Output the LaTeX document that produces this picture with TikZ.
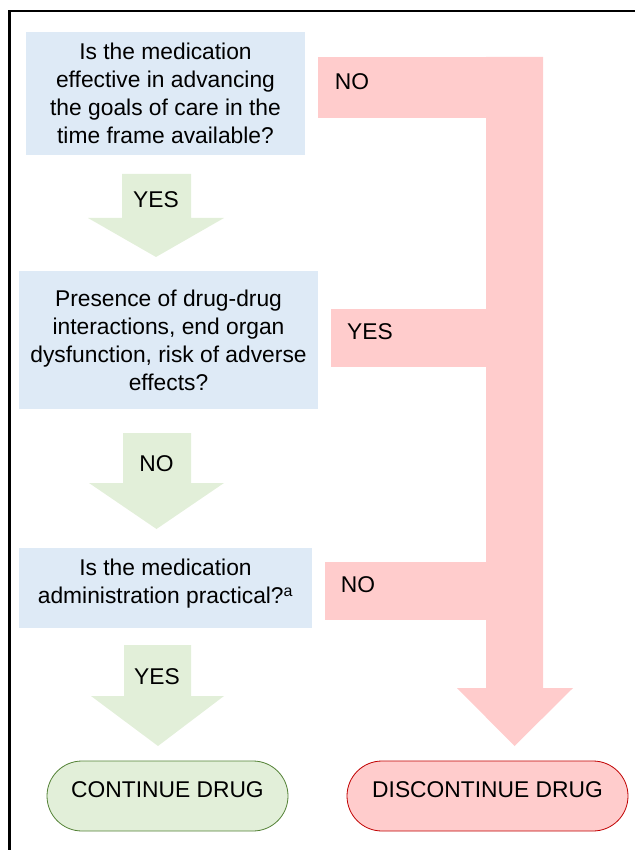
\documentclass[tikz,border=0pt]{standalone}
\usepackage{fontspec}
\setmainfont{Liberation Sans}
\definecolor{Cq}{HTML}{DEEAF6}
\definecolor{Cyes}{HTML}{E2EFD9}
\definecolor{Cno}{HTML}{FFCCCC}
\definecolor{Cyesline}{HTML}{538135}
\definecolor{Cnoline}{HTML}{C00000}
\tikzset{
  question/.style={fill=Cq, align=center, inner sep=0pt, font=\fontsize{22.8}{28}\selectfont},
  answer/.style={inner sep=0pt, font=\fontsize{22.8}{28}\selectfont},
  outcome/.style={rectangle, rounded corners=35pt, line width=0.8pt, minimum height=70, inner sep=0pt, text depth=12pt, font=\fontsize{22.8}{28}\selectfont}
}

\begin{document}
\begin{tikzpicture}[x=1pt, y=-1pt]
\useasboundingbox (0,0) rectangle (635,850);

% frame
\draw[line width=2.5pt] (9.7,850) -- (9.7,11) -- (635,11);

% discontinue branch:
\coordinate (red_tip) at (514.5,746);
\fill[Cno] (486,57) -- (486,688) -- (457,688) -- (red_tip) -- (573,688) -- (543,688) -- (543,57) -- cycle;
\fill[Cno] (318,57) rectangle (543,118);
\fill[Cno] (331,309) rectangle (486,367);
\fill[Cno] (325,562) rectangle (486,620);

% continue branch:
\fill[Cyes] (122,174) -- (122,218) -- (88,218) -- (156,257) -- (224,218) -- (191,218) -- (191,174) -- cycle;
\fill[Cyes] (123,433) -- (123,483) -- (89,483) -- (156.5,529) -- (224,483) -- (191,483) -- (191,433) -- cycle;
\fill[Cyes] (124,645) -- (124,696) -- (91,696) -- (158,746) -- (224,696) -- (191,696) -- (191,645) -- cycle;

% questions
\node[question, minimum width=279, minimum height=123] (q_effective) at (165.5,93.5)
  {Is the medication\\effective in advancing\\the goals of care in the\\time frame available?};
\node[question, minimum width=299, minimum height=138] (q_interactions) at (168.5,340)
  {Presence of drug-drug\\interactions, end organ\\dysfunction, risk of adverse\\effects?};
\node[question, minimum width=293, minimum height=80, text depth=13pt] (q_practical) at (165.5,588)
  {Is the medication\\administration practical?\textsuperscript{a}};

% answers
\node[answer] (no_effective) at (352,81.5) {NO};
\node[answer] (yes_effective) at (156,200) {YES};
\node[answer] (yes_interactions) at (370,331.5) {YES};
\node[answer] (no_interactions) at (156.5,464) {NO};
\node[answer] (no_practical) at (358,585) {NO};
\node[answer] (yes_practical) at (157,677) {YES};

% outcomes
\node[outcome, draw=Cyesline, fill=Cyes, minimum width=241] (continue) at (167.5,796) {CONTINUE DRUG};
\node[outcome, draw=Cnoline, fill=Cno, minimum width=281] (discontinue) at (487.5,796) {DISCONTINUE DRUG};

\end{tikzpicture}
\end{document}
